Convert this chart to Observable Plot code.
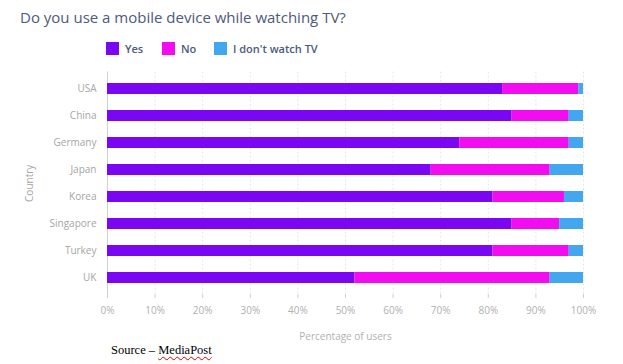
<!DOCTYPE html>
<html>
<head>
<meta charset="utf-8">
<script src="https://cdn.jsdelivr.net/npm/d3@7"></script>
<script src="https://cdn.jsdelivr.net/npm/@observablehq/plot@0.6"></script>
<style>
  html, body { margin: 0; padding: 0; background: #fff; }
  #wrap { position: relative; width: 623px; height: 364px; overflow: hidden; font-family: "Open Sans", sans-serif; }
  #title { position: absolute; left: 20px; top: 6px; font-size: 15px; line-height: 22px; color: #4d5a7a; white-space: nowrap; }
  .lg { position: absolute; top: 40px; height: 16px; display: flex; align-items: center; font-size: 11px; font-weight: 600; color: #4d5a7a; white-space: nowrap; }
  .sw { width: 13px; height: 13px; margin-right: 6px; }
  #chart { position: absolute; left: 0; top: 60px; }
  #source { position: absolute; left: 111px; top: 343px; font-family: "Liberation Serif", "Times New Roman", serif; font-size: 12.5px; color: #000; white-space: nowrap; }
  #source span { text-decoration: underline wavy #d00; text-decoration-thickness: 1px; text-underline-offset: 2px; }
</style>
</head>
<body>
<div id="wrap">
  <div id="title">Do you use a mobile device while watching TV?</div>
  <div id="legend"></div>
  <div id="chart"></div>
  <div id="source">Source – <span>MediaPost</span></div>
</div>
<script>
const countries = ["USA", "China", "Germany", "Japan", "Korea", "Singapore", "Turkey", "UK"];
const yesValues = [83, 85, 74, 68, 81, 85, 81, 52];
const noValues = [16, 12, 23, 25, 15, 10, 16, 41];
const noTvValues = [1, 3, 3, 7, 4, 5, 3, 7];
const seriesNames = ["Yes", "No", "I don't watch TV"];
const seriesColors = ["#7a06f2", "#f20cf0", "#42a7ee"];
const xTicks = [0, 10, 20, 30, 40, 50, 60, 70, 80, 90, 100];

const legendLefts = [106, 162, 214];
const legend = document.getElementById("legend");
seriesNames.forEach((s, i) => {
  const d = document.createElement("div");
  d.className = "lg";
  d.style.left = legendLefts[i] + "px";
  d.innerHTML = `<div class="sw" style="background:${seriesColors[i]}"></div><span>${s}</span>`;
  legend.appendChild(d);
});

const seriesValues = [yesValues, noValues, noTvValues];
const rows = [];
countries.forEach((c, i) => {
  seriesNames.forEach((s, j) => {
    rows.push({country: c, series: s, value: seriesValues[j][i]});
  });
});

const chart = Plot.plot({
  width: 623,
  height: 290,
  marginLeft: 107,
  marginRight: 40,
  marginTop: 11.6,
  marginBottom: 56,
  style: {fontFamily: "'Open Sans', sans-serif", fontSize: "10px", color: "#b0b0b0", background: "transparent"},
  x: {domain: [0, 100]},
  y: {domain: countries, paddingInner: 0.586, paddingOuter: 0.3},
  color: {domain: seriesNames, range: seriesColors},
  marks: [
    Plot.ruleX(xTicks, {stroke: "#e6e6e6", strokeDasharray: "2,2"}),
    Plot.ruleX([0], {stroke: "#d0d0d0"}),
    Plot.barX(rows, Plot.stackX({order: seriesNames, x: "value", y: "country", fill: "series"})),
    Plot.axisX({ticks: xTicks, tickFormat: d => d + "%", tickSize: 4, tickPadding: 8, stroke: "#d0d0d0", fill: "#b0b0b0",
      label: "Percentage of users", labelAnchor: "center", labelOffset: 45, labelArrow: "none"}),
    Plot.axisY({tickSize: 0, tickPadding: 11, fill: "#a5a5a5",
      label: "Country", labelAnchor: "center", labelOffset: 82, labelArrow: "none"})
  ]
});
document.getElementById("chart").appendChild(chart);
</script>
</body>
</html>
